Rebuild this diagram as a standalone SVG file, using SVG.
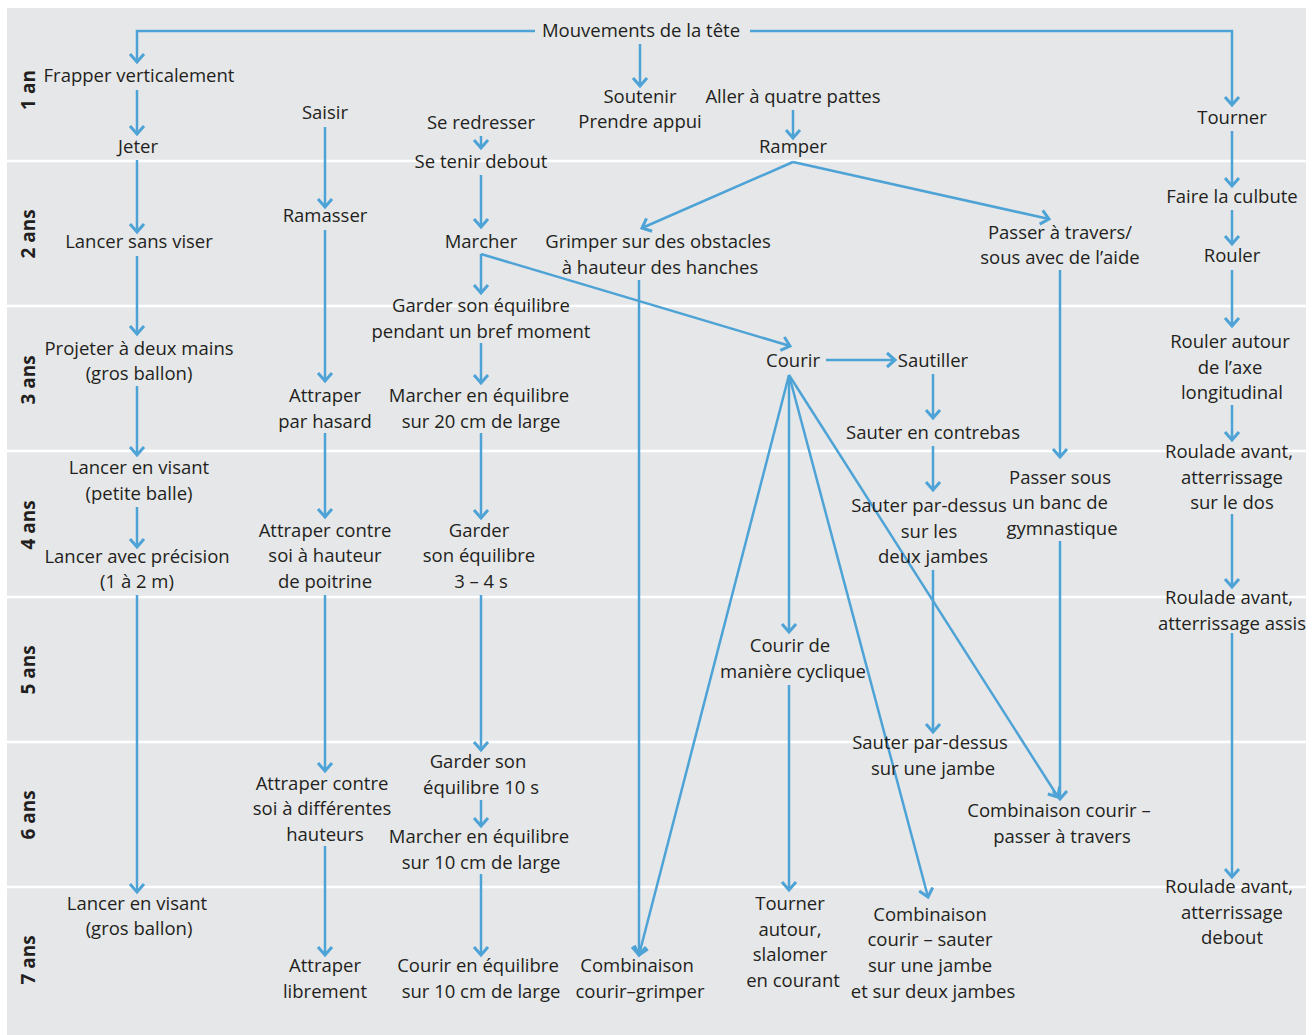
<svg xmlns="http://www.w3.org/2000/svg" width="1314" height="1035" viewBox="0 0 1314 1035">
<style>
text{font-family:"Open Sans","Noto Sans","Liberation Sans",sans-serif;font-size:18.5px;fill:#231f20;text-anchor:middle}
.age{font-weight:bold;font-size:19px}
.c{fill:none;stroke:#4ea3d6;stroke-width:2.5}
.sep{stroke:#ffffff;stroke-width:2.5}
</style>
<defs>
<marker id="ah" viewBox="-12 -10 16 20" markerWidth="16" markerHeight="20" refX="0" refY="0" orient="auto" markerUnits="userSpaceOnUse">
<path d="M-8,-7 L0,0 L-8,7" fill="none" stroke="#4ea3d6" stroke-width="3"/>
</marker>
</defs>
<rect x="7" y="8" width="1299" height="1027" fill="#e6e7e9"/>
<g id="separators">
<line class="sep" x1="7" y1="161" x2="1306" y2="161"/>
<line class="sep" x1="7" y1="306" x2="1306" y2="306"/>
<line class="sep" x1="7" y1="451" x2="1306" y2="451"/>
<line class="sep" x1="7" y1="597" x2="1306" y2="597"/>
<line class="sep" x1="7" y1="742" x2="1306" y2="742"/>
<line class="sep" x1="7" y1="887" x2="1306" y2="887"/>
</g>
<g id="ages">
<text class="age" transform="translate(35,90) rotate(-90)">1 an</text>
<text class="age" transform="translate(35,234) rotate(-90)">2 ans</text>
<text class="age" transform="translate(35,380) rotate(-90)">3 ans</text>
<text class="age" transform="translate(35,525) rotate(-90)">4 ans</text>
<text class="age" transform="translate(35,670) rotate(-90)">5 ans</text>
<text class="age" transform="translate(35,815) rotate(-90)">6 ans</text>
<text class="age" transform="translate(35,960) rotate(-90)">7 ans</text>
</g>
<g id="connectors">
<polyline class="c" points="535,31 137,31 137,62" marker-end="url(#ah)"/>
<polyline class="c" points="750,31 1232,31 1232,105" marker-end="url(#ah)"/>
<line class="c" x1="640" y1="44" x2="640" y2="86" marker-end="url(#ah)"/>
<line class="c" x1="137" y1="90" x2="137" y2="134" marker-end="url(#ah)"/>
<line class="c" x1="481" y1="136" x2="481" y2="148" marker-end="url(#ah)"/>
<line class="c" x1="793" y1="110" x2="793" y2="138" marker-end="url(#ah)"/>
<line class="c" x1="137" y1="160" x2="137" y2="232" marker-end="url(#ah)"/>
<line class="c" x1="325" y1="127" x2="325" y2="207" marker-end="url(#ah)"/>
<line class="c" x1="481" y1="175" x2="481" y2="227" marker-end="url(#ah)"/>
<line class="c" x1="793" y1="162" x2="642" y2="228" marker-end="url(#ah)"/>
<line class="c" x1="793" y1="162" x2="1049" y2="219" marker-end="url(#ah)"/>
<line class="c" x1="1232" y1="131" x2="1232" y2="186" marker-end="url(#ah)"/>
<line class="c" x1="1232" y1="210" x2="1232" y2="244" marker-end="url(#ah)"/>
<line class="c" x1="137" y1="256" x2="137" y2="334" marker-end="url(#ah)"/>
<line class="c" x1="325" y1="230" x2="325" y2="381" marker-end="url(#ah)"/>
<line class="c" x1="481" y1="254" x2="481" y2="293" marker-end="url(#ah)"/>
<line class="c" x1="481" y1="254" x2="790" y2="346" marker-end="url(#ah)"/>
<line class="c" x1="481" y1="343" x2="481" y2="383" marker-end="url(#ah)"/>
<line class="c" x1="826" y1="360" x2="895" y2="360" marker-end="url(#ah)"/>
<line class="c" x1="933" y1="374" x2="933" y2="418" marker-end="url(#ah)"/>
<line class="c" x1="639" y1="280" x2="639" y2="955" marker-end="url(#ah)"/>
<line class="c" x1="1232" y1="270" x2="1232" y2="326" marker-end="url(#ah)"/>
<line class="c" x1="1232" y1="405" x2="1232" y2="440" marker-end="url(#ah)"/>
<line class="c" x1="137" y1="386" x2="137" y2="455" marker-end="url(#ah)"/>
<line class="c" x1="137" y1="507" x2="137" y2="547" marker-end="url(#ah)"/>
<line class="c" x1="325" y1="433" x2="325" y2="517" marker-end="url(#ah)"/>
<line class="c" x1="481" y1="433" x2="481" y2="518" marker-end="url(#ah)"/>
<line class="c" x1="933" y1="446" x2="933" y2="490" marker-end="url(#ah)"/>
<line class="c" x1="1060" y1="270" x2="1060" y2="457" marker-end="url(#ah)"/>
<line class="c" x1="1232" y1="514" x2="1232" y2="587" marker-end="url(#ah)"/>
<line class="c" x1="789" y1="375" x2="789" y2="632" marker-end="url(#ah)"/>
<line class="c" x1="933" y1="570" x2="933" y2="732" marker-end="url(#ah)"/>
<line class="c" x1="137" y1="595" x2="137" y2="892" marker-end="url(#ah)"/>
<line class="c" x1="325" y1="595" x2="325" y2="771" marker-end="url(#ah)"/>
<line class="c" x1="481" y1="595" x2="481" y2="750" marker-end="url(#ah)"/>
<line class="c" x1="481" y1="800" x2="481" y2="826" marker-end="url(#ah)"/>
<line class="c" x1="789" y1="375" x2="1058" y2="797" marker-end="url(#ah)"/>
<line class="c" x1="1060" y1="541" x2="1060" y2="799" marker-end="url(#ah)"/>
<line class="c" x1="1232" y1="633" x2="1232" y2="877" marker-end="url(#ah)"/>
<line class="c" x1="325" y1="846" x2="325" y2="955" marker-end="url(#ah)"/>
<line class="c" x1="481" y1="874" x2="481" y2="955" marker-end="url(#ah)"/>
<line class="c" x1="789" y1="375" x2="639" y2="955" marker-end="url(#ah)"/>
<line class="c" x1="789" y1="685" x2="789" y2="890" marker-end="url(#ah)"/>
<line class="c" x1="789" y1="375" x2="928" y2="897" marker-end="url(#ah)"/>
</g>
<g id="n-tete"><text x="641" y="37">Mouvements de la tête</text></g>
<g id="n-frapper"><text x="139" y="82">Frapper verticalement</text></g>
<g id="n-jeter"><text x="138" y="153">Jeter</text></g>
<g id="n-saisir"><text x="325" y="119">Saisir</text></g>
<g id="n-redresser"><text x="481" y="129">Se redresser</text></g>
<g id="n-debout"><text x="481" y="168">Se tenir debout</text></g>
<g id="n-soutenir"><text x="640" y="103">Soutenir</text><text x="640" y="128">Prendre appui</text></g>
<g id="n-quatre"><text x="793" y="103">Aller à quatre pattes</text></g>
<g id="n-ramper"><text x="793" y="153">Ramper</text></g>
<g id="n-tourner"><text x="1232" y="124">Tourner</text></g>
<g id="n-lancer-sans"><text x="139" y="248">Lancer sans viser</text></g>
<g id="n-ramasser"><text x="325" y="222">Ramasser</text></g>
<g id="n-marcher"><text x="481" y="248">Marcher</text></g>
<g id="n-grimper"><text x="658" y="248">Grimper sur des obstacles</text><text x="660" y="274">à hauteur des hanches</text></g>
<g id="n-passer-travers"><text x="1060" y="239">Passer à travers/</text><text x="1060" y="264">sous avec de l’aide</text></g>
<g id="n-culbute"><text x="1232" y="203">Faire la culbute</text></g>
<g id="n-rouler"><text x="1232" y="262">Rouler</text></g>
<g id="n-projeter"><text x="139" y="355">Projeter à deux mains</text><text x="139" y="380">(gros ballon)</text></g>
<g id="n-attraper-hasard"><text x="325" y="402">Attraper</text><text x="325" y="428">par hasard</text></g>
<g id="n-garder-bref"><text x="481" y="312">Garder son équilibre</text><text x="481" y="338">pendant un bref moment</text></g>
<g id="n-marcher20"><text x="479" y="402">Marcher en équilibre</text><text x="481" y="428">sur 20 cm de large</text></g>
<g id="n-courir"><text x="793" y="367">Courir</text></g>
<g id="n-sautiller"><text x="933" y="367">Sautiller</text></g>
<g id="n-contrebas"><text x="933" y="439">Sauter en contrebas</text></g>
<g id="n-rouler-axe"><text x="1230" y="348">Rouler autour</text><text x="1230" y="374">de l’axe</text><text x="1232" y="399">longitudinal</text></g>
<g id="n-visant-petite"><text x="139" y="474">Lancer en visant</text><text x="139" y="500">(petite balle)</text></g>
<g id="n-precision"><text x="137" y="563">Lancer avec précision</text><text x="137" y="588">(1 à 2 m)</text></g>
<g id="n-attraper-poitrine"><text x="325" y="537">Attraper contre</text><text x="325" y="562">soi à hauteur</text><text x="325" y="588">de poitrine</text></g>
<g id="n-garder34"><text x="479" y="537">Garder</text><text x="479" y="562">son équilibre</text><text x="481" y="588">3 – 4 s</text></g>
<g id="n-sauter-deux"><text x="929" y="512">Sauter par-dessus</text><text x="929" y="538">sur les</text><text x="933" y="563">deux jambes</text></g>
<g id="n-passer-sous"><text x="1060" y="484">Passer sous</text><text x="1060" y="509">un banc de</text><text x="1062" y="535">gymnastique</text></g>
<g id="n-roulade-dos"><text x="1229" y="458">Roulade avant,</text><text x="1232" y="484">atterrissage</text><text x="1232" y="509">sur le dos</text></g>
<g id="n-cyclique"><text x="790" y="652">Courir de</text><text x="793" y="678">manière cyclique</text></g>
<g id="n-roulade-assis"><text x="1229" y="604">Roulade avant,</text><text x="1232" y="630">atterrissage assis</text></g>
<g id="n-sauter-une"><text x="930" y="749">Sauter par-dessus</text><text x="933" y="775">sur une jambe</text></g>
<g id="n-attraper-hauteurs"><text x="322" y="790">Attraper contre</text><text x="322" y="815">soi à différentes</text><text x="325" y="841">hauteurs</text></g>
<g id="n-garder10"><text x="478" y="768">Garder son</text><text x="481" y="794">équilibre 10 s</text></g>
<g id="n-marcher10"><text x="479" y="843">Marcher en équilibre</text><text x="481" y="869">sur 10 cm de large</text></g>
<g id="n-comb-passer"><text x="1059" y="817">Combinaison courir –</text><text x="1062" y="843">passer à travers</text></g>
<g id="n-visant-gros"><text x="137" y="910">Lancer en visant</text><text x="139" y="935">(gros ballon)</text></g>
<g id="n-attraper-libre"><text x="325" y="972">Attraper</text><text x="325" y="998">librement</text></g>
<g id="n-courir10"><text x="478" y="972">Courir en équilibre</text><text x="481" y="998">sur 10 cm de large</text></g>
<g id="n-comb-grimper"><text x="637" y="972">Combinaison</text><text x="640" y="998">courir–grimper</text></g>
<g id="n-tourner-autour"><text x="790" y="910">Tourner</text><text x="790" y="936">autour,</text><text x="790" y="961">slalomer</text><text x="793" y="987">en courant</text></g>
<g id="n-comb-sauter"><text x="930" y="921">Combinaison</text><text x="930" y="946">courir – sauter</text><text x="930" y="972">sur une jambe</text><text x="933" y="998">et sur deux jambes</text></g>
<g id="n-roulade-debout"><text x="1229" y="893">Roulade avant,</text><text x="1232" y="919">atterrissage</text><text x="1232" y="944">debout</text></g>
</svg>
